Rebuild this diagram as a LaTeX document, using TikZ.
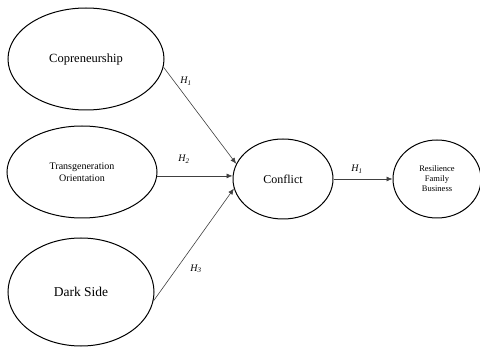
\documentclass[tikz,border=0pt]{standalone}
\usepackage{fontspec}
\setmainfont{Liberation Serif}
\usetikzlibrary{arrows.meta}
\usetikzlibrary{shapes.geometric}

\begin{document}
\begin{tikzpicture}[x=1pt, y=-1pt,
		latent/.style={draw, ellipse, line width=1pt, inner sep=0pt, align=center},
		hpath/.style={-{Latex[length=6pt, width=5pt]}, line width=0.6pt, draw=black!75},
		hyp/.style={font=\fontsize{10}{12}\selectfont}]
	\useasboundingbox (0,0) rectangle (480,350);
	\node[latent, minimum width=156pt, minimum height=102pt, font=\fontsize{12.5}{14}\selectfont] (copr) at (86,59) {Copreneurship};
	\node[latent, minimum width=150pt, minimum height=92pt, font=\fontsize{10}{12}\selectfont] (trans) at (82,172) {Transgeneration\\Orientation};
	\node[latent, minimum width=146pt, minimum height=108pt, font=\fontsize{13.5}{15}\selectfont] (dark) at (81,292) {Dark Side};
	\node[latent, minimum width=100pt, minimum height=80pt, font=\fontsize{12}{14}\selectfont] (conf) at (283,179) {Conflict};
	\node[latent, minimum width=88pt, minimum height=78pt, font=\fontsize{8.5}{10}\selectfont] (res) at (437,179) {Resilience\\Family\\Business};
	% hypotheses
	\draw[hpath] (copr.-6) -- (conf.162);
	\draw[hpath] (trans.-3) -- (trans.-3 -| conf.west);
	\draw[hpath] (dark.-7) -- (conf.-169);
	\draw[hpath] (conf.east) -- (res.west);
	\node[hyp] (h1) at (186,81) {\textit{H\textsubscript{1}}};
	\node[hyp] (h2) at (184,159) {\textit{H\textsubscript{2}}};
	\node[hyp] (h3) at (196,269) {\textit{H\textsubscript{3}}};
	\node[hyp] (h4) at (357,169) {\textit{H\textsubscript{1}}};
\end{tikzpicture}
\end{document}
